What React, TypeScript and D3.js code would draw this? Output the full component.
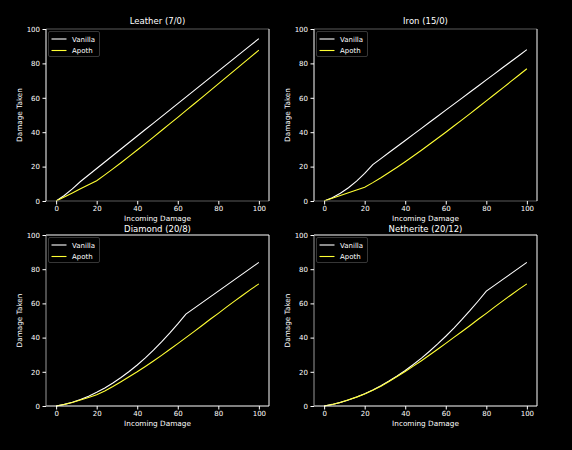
import React, { useEffect, useRef } from "react";
import * as d3 from "d3";

// incoming damage sampled every 4 points
const incoming = [
	0, 4, 8, 12, 16, 20, 24, 28, 32, 36, 40, 44, 48, 52, 56, 60, 64, 68, 72, 76,
	80, 84, 88, 92, 96, 100,
];
const xTicks = [0, 20, 40, 60, 80, 100];
const yTicks = [0, 20, 40, 60, 80, 100];
const titles = ["Leather (7/0)", "Iron (15/0)", "Diamond (20/8)", "Netherite (20/12)"];
const seriesNames = ["Vanilla", "Apoth"];

const leatherVanilla = [
	0, 3.2, 7.04, 11.33, 15.1, 18.88, 22.66, 26.43, 30.21, 33.98, 37.76, 41.54,
	45.31, 49.09, 52.86, 56.64, 60.42, 64.19, 67.97, 71.74, 75.52, 79.3, 83.07,
	86.85, 90.62, 94.4,
];
const leatherApoth = [
	0, 2.35, 4.71, 7.06, 9.41, 11.76, 15.16, 18.67, 22.26, 25.92, 29.63, 33.38,
	37.16, 40.97, 44.8, 48.65, 52.51, 56.39, 60.28, 64.18, 68.09, 72.0, 75.92,
	79.85, 83.78, 87.72,
];
const ironVanilla = [
	0, 1.92, 4.48, 7.68, 11.52, 16, 21.12, 24.64, 28.16, 31.68, 35.2, 38.72,
	42.24, 45.76, 49.28, 52.8, 56.32, 59.84, 63.36, 66.88, 70.4, 73.92, 77.44,
	80.96, 84.48, 88,
];
const ironApoth = [
	0, 1.6, 3.2, 4.8, 6.4, 8, 10.67, 13.52, 16.52, 19.64, 22.86, 26.16, 29.54,
	32.98, 36.47, 40, 43.57, 47.18, 50.82, 54.49, 58.18, 61.89, 65.63, 69.38,
	73.14, 76.92,
];
const diamondVanilla = [
	0, 0.96, 2.24, 3.84, 5.76, 8, 10.56, 13.44, 16.64, 20.16, 24, 28.16, 32.64,
	37.44, 42.56, 48, 53.76, 57.12, 60.48, 63.84, 67.2, 70.56, 73.92, 77.28,
	80.64, 84,
];
const diamondApoth = [
	0, 0.9, 2.1, 3.5, 5.0, 6.6, 8.8, 11.4, 14.2, 17.1, 20.0, 23.1, 26.3, 29.6,
	33.0, 36.5, 40.0, 43.5, 47.1, 50.7, 54.2, 57.8, 61.3, 64.8, 68.2, 71.4,
];
const netheriteVanilla = [
	0, 0.93, 2.11, 3.55, 5.25, 7.2, 9.41, 11.87, 14.59, 17.57, 20.8, 24.29,
	28.03, 32.03, 36.29, 40.8, 45.57, 50.59, 55.87, 61.41, 67.2, 70.56, 73.92,
	77.28, 80.64, 84,
];
const netheriteApoth = [
	0, 0.9, 2.1, 3.6, 5.2, 7.0, 9.2, 11.6, 14.3, 17.2, 20.2, 23.3, 26.5, 29.8,
	33.2, 36.6, 40.1, 43.6, 47.1, 50.7, 54.2, 57.8, 61.3, 64.8, 68.2, 71.4,
];

const panelSeries = [
	[leatherVanilla, leatherApoth],
	[ironVanilla, ironApoth],
	[diamondVanilla, diamondApoth],
	[netheriteVanilla, netheriteApoth],
];
const lineColors = ["#ffffff", "#ffff33"];

const W = 572;
const H = 450;
const FONT = "DejaVu Sans, sans-serif";

// axes boxes in pixels
const boxes = [
	{ x0: 46, x1: 269, y0: 29, y1: 201 },
	{ x0: 314, x1: 537, y0: 29, y1: 201 },
	{ x0: 46, x1: 269, y0: 235, y1: 406 },
	{ x0: 314, x1: 537, y0: 235, y1: 406 },
];

const App: React.FC = () => {
	const svgRef = useRef<SVGSVGElement>(null);

	useEffect(() => {
		if (!svgRef.current) return;
		const svg = d3.select(svgRef.current);
		svg.selectAll("*").remove();

		svg.append("rect").attr("width", W).attr("height", H).attr("fill", "#000");

		panelSeries.forEach((series, i) => {
			const b = boxes[i];
			const x = d3.scaleLinear().domain([-5, 105]).range([b.x0, b.x1]);
			const y = d3.scaleLinear().domain([0, 100]).range([b.y1, b.y0]);
			const g = svg.append("g");
			const topRow = i < 2;

			// lines
			series.forEach((vals, s) => {
				const line = d3
					.line<number>()
					.x((_, k) => x(incoming[k]))
					.y((d) => y(d));
				g.append("path")
					.datum(vals)
					.attr("d", line)
					.attr("fill", "none")
					.attr("stroke", lineColors[s])
					.attr("stroke-width", 1.1);
			});

			// spines
			const hColor = topRow ? "#5a5a5a" : "#ffffff";
			g.append("line").attr("x1", b.x0).attr("x2", b.x1).attr("y1", b.y0).attr("y2", b.y0).attr("stroke", hColor);
			g.append("line").attr("x1", b.x0).attr("x2", b.x1).attr("y1", b.y1).attr("y2", b.y1).attr("stroke", hColor);
			g.append("line").attr("x1", b.x0).attr("x2", b.x0).attr("y1", b.y0).attr("y2", b.y1).attr("stroke", topRow ? "#ffffff" : "#999");
			g.append("line").attr("x1", b.x1).attr("x2", b.x1).attr("y1", b.y0).attr("y2", b.y1).attr("stroke", "#ffffff");

			// axes
			const xa = g
				.append("g")
				.attr("transform", `translate(0,${b.y1})`)
				.call(d3.axisBottom(x).tickValues(xTicks).tickSize(3.5).tickPadding(2));
			const ya = g
				.append("g")
				.attr("transform", `translate(${b.x0},0)`)
				.call(d3.axisLeft(y).tickValues(yTicks).tickSize(3.5).tickPadding(2.5));
			[xa, ya].forEach((a) => {
				a.select(".domain").remove();
				a.attr("font-size", 7).attr("font-family", FONT);
				a.selectAll("line").attr("stroke", "#fff");
				a.selectAll("text").attr("fill", "#fff");
			});

			// title and labels
			g.append("text")
				.attr("x", (b.x0 + b.x1) / 2)
				.attr("y", b.y0 - (topRow ? 5 : 3.5))
				.attr("text-anchor", "middle")
				.attr("font-family", FONT)
				.attr("font-size", 8.5)
				.attr("fill", "#fff")
				.text(titles[i]);

			g.append("text")
				.attr("x", (b.x0 + b.x1) / 2)
				.attr("y", b.y1 + 20)
				.attr("text-anchor", "middle")
				.attr("font-family", FONT)
				.attr("font-size", 7.3)
				.attr("fill", "#fff")
				.text("Incoming Damage");

			g.append("text")
				.attr("transform", `translate(${b.x0 - 24},${(b.y0 + b.y1) / 2}) rotate(-90)`)
				.attr("text-anchor", "middle")
				.attr("font-family", FONT)
				.attr("font-size", 7.3)
				.attr("fill", "#fff")
				.text("Damage Taken");

			// legend
			const lg = g.append("g").attr("transform", `translate(${b.x0 + 2.5},${b.y0 + 2.5})`);
			lg.append("rect")
				.attr("width", 51)
				.attr("height", 25)
				.attr("rx", 1.5)
				.attr("fill", "#000")
				.attr("stroke", "#444")
				.attr("stroke-width", 0.8);
			seriesNames.forEach((name, s) => {
				const ly = 7.5 + s * 11.5;
				lg.append("line")
					.attr("x1", 3)
					.attr("x2", 18)
					.attr("y1", ly)
					.attr("y2", ly)
					.attr("stroke", lineColors[s])
					.attr("stroke-width", 1.1);
				lg.append("text")
					.attr("x", 23.5)
					.attr("y", ly + 2.5)
					.attr("font-family", FONT)
					.attr("font-size", 7)
					.attr("fill", "#fff")
					.text(name);
			});
		});
	}, []);

	return (
		<svg
			ref={svgRef}
			width={W}
			height={H}
			style={{ position: "absolute", left: 0, top: 0, display: "block" }}
		/>
	);
};

export default App;
